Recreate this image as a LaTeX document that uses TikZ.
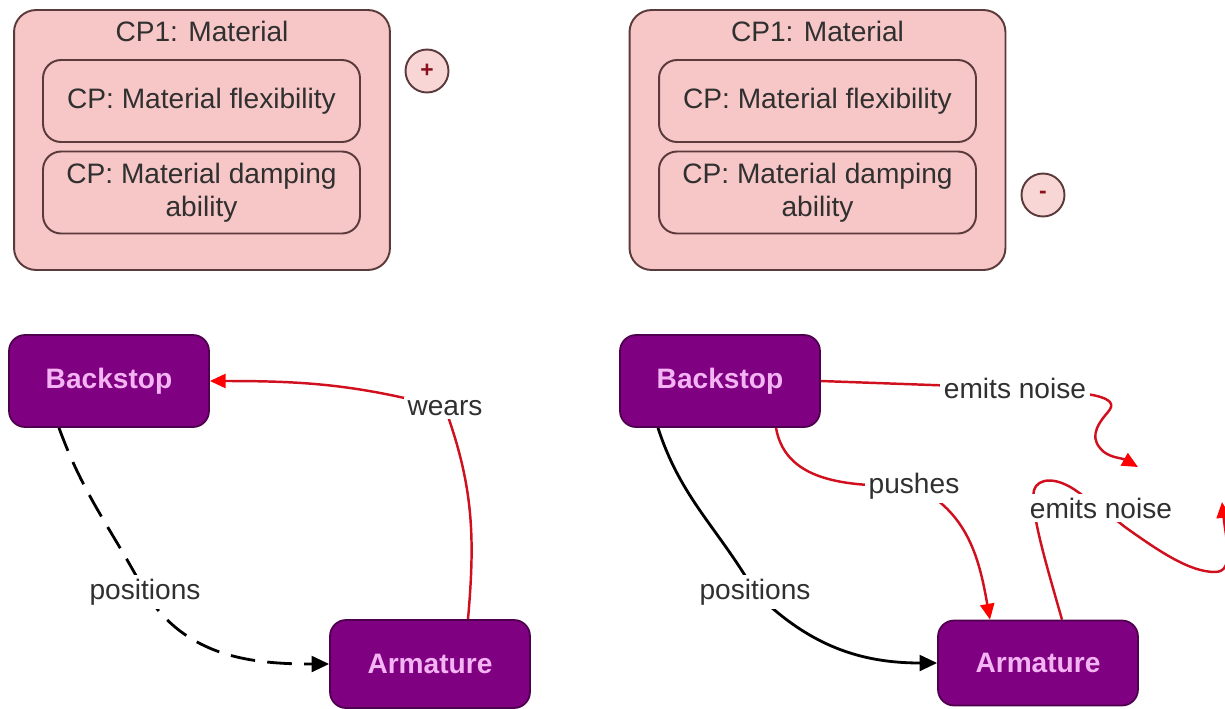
\documentclass[tikz,border=0pt]{standalone}
\usepackage{fontspec}
\setmainfont{Liberation Sans}
\usetikzlibrary{arrows.meta,calc}
\pgfdeclarelayer{background}
\pgfsetlayers{background,main}

\definecolor{cpfill}{HTML}{F7C6C6}
\definecolor{cpline}{HTML}{5A3A3A}
\definecolor{signfill}{HTML}{F8D6D6}
\definecolor{signtext}{HTML}{8A1020}
\definecolor{purplefill}{HTML}{7F0080}
\definecolor{purpleline}{HTML}{4E004E}
\definecolor{purpletext}{HTML}{F4B4F4}
\definecolor{textgray}{HTML}{303030}
\definecolor{relcolor}{HTML}{D0101E}

\begin{document}
\begin{tikzpicture}[x=0.02cm,y=-0.02cm,
  font=\fontsize{16}{18.5}\selectfont,
  cpouter/.style={draw=cpline, fill=cpfill, line width=1.1pt, rounded corners=0.44cm,
    minimum width=7.52cm, minimum height=5.2cm, inner sep=0pt},
  cpinner/.style={draw=cpline, fill=cpfill, line width=1.1pt, rounded corners=0.36cm,
    minimum width=6.34cm, minimum height=1.64cm, align=center, inner sep=0pt, text=textgray},
  cptitle/.style={text=textgray, inner sep=0pt},
  sign/.style={circle, draw=cpline, fill=signfill, line width=1.1pt, minimum size=0.86cm,
    inner sep=0pt, text=signtext, font=\bfseries\fontsize{13}{15}\selectfont},
  comp/.style={draw=purpleline, fill=purplefill, rounded corners=0.32cm, line width=1pt,
    minimum width=4cm, minimum height=1.84cm, text=purpletext,
    font=\fontsize{16}{18.5}\selectfont\bfseries},
  lbl/.style={fill=white, text=textgray, inner sep=2pt},
  relarrow/.style={draw=relcolor, line width=1.4pt,
    -{Triangle[length=9pt,width=8pt,fill=red,color=red]}},
  posarrow/.style={draw=black, line width=1.6pt,
    -{Triangle[length=10pt,width=9pt]}}
]
\useasboundingbox (0,0) rectangle (1225,708);

% ---- left concept panel ----
\node[cpouter] (outL) at (202,140) {};
\node[cptitle] (titL) at (202,31) {CP1: Material};
\node[cpinner] (flexL) at (201.5,101) {CP: Material flexibility};
\node[cpinner] (dampL) at (201.5,192.5) {CP: Material damping\\ability};
\node[sign] (plus) at (427,71) {+};

% ---- right concept panel ----
\node[cpouter] (outR) at (817.5,140) {};
\node[cptitle] (titR) at (817.5,31) {CP1: Material};
\node[cpinner] (flexR) at (817.5,101) {CP: Material flexibility};
\node[cpinner] (dampR) at (817.5,192.5) {CP: Material damping\\ability};
\node[sign] (minus) at (1043,195) {-};

% ---- components ----
\node[comp] (backL) at (109,381) {Backstop};
\node[comp, minimum height=1.76cm] (armL) at (430,664) {Armature};
\node[comp] (backR) at (720,381) {Backstop};
\node[comp, minimum height=1.7cm] (armR) at (1038,663) {Armature};

% ---- relation labels ----
\node[lbl] (wears) at (445,408) {wears};
\node[lbl] (posL) at (145,592) {positions};
\node[lbl] (posR) at (755,592) {positions};
\node[lbl] (push) at (914,486) {pushes};
\node[lbl] (noiseA) at (1015,388) {emits noise};
\node[lbl] (noiseB) at (1101,508) {emits noise};

\coordinate (tipA) at (1138,467);
\coordinate (tipB) at (1222,502);

% ---- relations (behind the labels) ----
\begin{pgfonlayer}{background}
  % left
  \draw[relarrow] ($(armL.north)+(38,0)$) to[out=85,in=-70] (wears.center)
                  to[out=165,in=0] (backL.east);
  \draw[posarrow, dash pattern=on 14pt off 7pt]
       ($(backL.south)+(-50,0)$) to[out=-70,in=118] (posL.center)
       to[out=-58,in=180] (armL.west);
  % right
  \draw[posarrow] ($(backR.south)+(-62,0)$) to[out=-72,in=120] (posR.center)
       to[out=-45,in=180] (armR.west);
  \draw[relarrow] ($(backR.south)+(56,0)$) to[out=-80,in=180] (push.center)
       to[out=-25,in=100] ($(armR.north)+(-48,0)$);
  \draw[relarrow] (backR.east) -- (noiseA.center)
       .. controls (1090,392) and (1122,396) .. (1108,412)
       .. controls (1094,428) and (1090,440) .. (1104,452)
       .. controls (1112,458) and (1122,458) .. (tipA);
  \draw[relarrow] ($(armR.north)+(24,0)$)
       .. controls (1045,560) and (1030,510) .. (1034,490)
       .. controls (1038,478) and (1056,476) .. (1078,492)
       .. controls (1100,508) and (1110,515) .. (1125,527)
       .. controls (1160,552) and (1190,572) .. (1215,572)
       .. controls (1235,572) and (1226,540) .. (tipB);
\end{pgfonlayer}
\end{tikzpicture}
\end{document}
